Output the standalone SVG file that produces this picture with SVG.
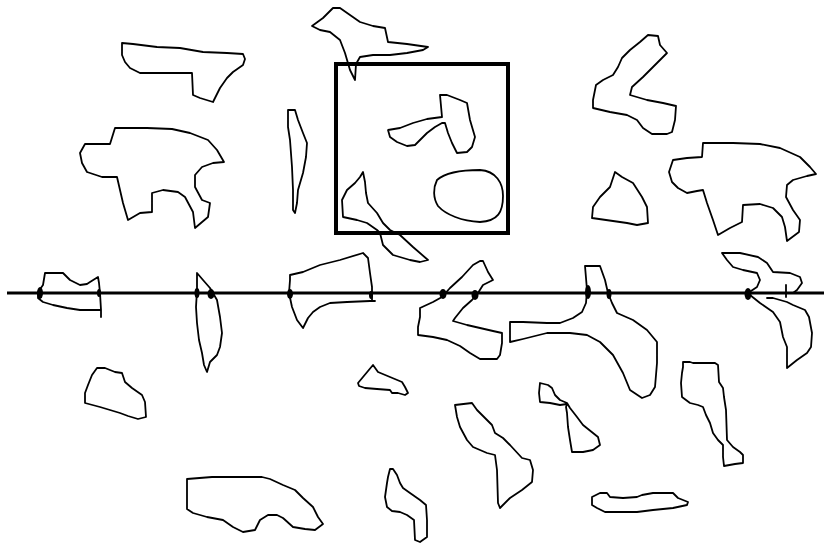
<svg xmlns="http://www.w3.org/2000/svg" width="824" height="543" viewBox="0 0 824 543">
<style>
.s{fill:none;stroke:#000;stroke-width:1.8;stroke-linejoin:round;stroke-linecap:round}
.b{fill:#000}
</style>
<rect width="824" height="543" fill="#fff"/>
<g id="shapes">
<polygon class="s" points="122,43 133,44 157,47 180,48 203,52 227,53 243,54 245,59 243,65 233,72 227,78 220,88 213,102 200,98 193,95 192,73 140,73 130,68 125,62 122,55"/>
<polygon class="s" points="115,128 147,128 172,129 190,133 208,140 217,150 224,162 213,163 202,167 195,175 195,187 202,200 210,203 208,217 195,228 193,212 185,197 178,192 163,190 152,193 152,212 140,213 128,220 123,203 117,177 102,177 87,172 82,163 80,153 85,144 110,144"/>
<polygon class="s" points="312,26 323,18 333,8 340,8 350,15 360,22 373,26 385,28 388,42 407,44 428,47 423,50 407,53 390,55 373,55 360,57 356,64 355,80 350,70 345,53 340,40 330,32 320,30"/>
<polygon class="s" points="288,110 295,110 298,120 303,133 307,143 306,157 303,173 298,190 297,203 295,213 293,210 293,190 292,167 290,140 288,127"/>
<polygon class="s" points="388,130 400,128 413,123 427,119 442,117 440,95 447,95 460,100 467,103 470,120 475,137 472,147 467,152 457,153 452,143 448,133 445,123 442,123 435,127 427,133 418,142 415,145 407,146 397,142 390,137"/>
<path class="s" d="M437,180 C446,172 462,170 480,170 C496,171 503,183 503,196 C503,212 498,221 480,222 C462,221 446,215 438,206 C433,198 433,188 437,180 Z"/>
<polygon class="s" points="363,172 365,182 366,193 368,203 377,213 383,223 390,230 400,235 413,247 428,260 420,262 410,260 393,255 383,245 380,233 377,230 367,223 357,220 343,217 342,200 347,190 355,183 360,177"/>
<polygon class="s" points="648,35 658,36 660,45 667,53 657,63 643,77 632,87 630,95 647,100 663,103 676,106 675,120 672,132 667,134 652,134 643,128 637,120 627,115 610,112 593,108 593,100 596,85 603,80 613,75 618,67 622,58 630,50 640,42"/>
<polygon class="s" points="615,172 622,177 633,183 642,197 647,207 648,223 637,225 627,223 613,221 592,218 593,207 600,197 610,187"/>
<polygon class="s" points="703,143 733,143 760,144 780,148 800,157 810,167 816,174 807,176 793,180 787,185 786,197 793,210 800,220 799,232 787,241 785,227 782,217 773,208 760,204 743,205 742,222 730,228 718,235 713,220 707,203 703,190 697,191 687,193 678,188 672,182 669,172 673,160 687,158 702,157"/>
<polyline class="s" points="100,310 80,310 67,308 53,305 43,302 38,298 38,292 43,285 45,273 63,273 70,280 80,285 87,284 90,282 98,277 99,283 100,293 101,310 101,317"/>
<polygon class="s" points="197,273 203,280 210,288 217,300 220,317 222,333 220,347 217,355 210,362 207,372 204,365 202,353 199,340 197,323 196,307 197,290"/>
<polyline class="s" points="375,301 370,301 347,302 330,303 320,307 313,312 308,318 303,328 297,320 292,307 289,293 290,280 290,275 303,272 320,265 340,260 363,253 368,258 370,273 372,287 372,297 372,301"/>
<polygon class="s" points="420,308 433,302 442,297 450,288 462,277 473,265 480,261 483,261 488,272 493,280 483,285 478,293 472,300 463,308 455,318 453,321 467,325 480,328 493,331 502,333 502,343 500,355 497,359 480,359 470,353 460,346 447,340 433,337 418,335 418,327 420,317"/>
<polygon class="s" points="358,383 373,365 378,372 390,377 402,382 405,387 408,393 405,395 398,393 392,393 390,390 377,389 365,388 359,386"/>
<polygon class="s" points="585,266 600,266 605,280 608,293 612,303 617,313 633,320 647,330 657,342 657,363 655,387 650,395 642,398 630,390 623,373 613,355 600,342 587,335 570,333 547,333 523,339 510,342 510,322 523,322 547,323 560,323 573,318 582,312 586,303 587,290 586,278"/>
<polyline class="s" points="748,293 757,287 760,280 757,273 743,270 733,267 727,260 722,253 740,253 758,257 767,263 773,272 790,273 800,277 802,283 797,290 793,293"/>
<polyline class="s" points="750,295 760,303 773,312 780,322 783,337 787,347 787,368 797,360 807,353 811,347 812,333 809,317 805,310 793,305 787,302 773,298 767,298"/>
<line class="s" x1="786" y1="285" x2="786" y2="297"/>
<polygon class="s" points="683,362 690,362 693,363 715,363 718,365 719,382 723,388 724,397 726,410 727,440 733,447 740,452 743,455 743,463 735,464 724,466 723,457 723,445 718,440 713,433 710,423 706,415 703,407 698,405 690,403 682,397 681,383 682,373 683,367"/>
<polygon class="s" points="455,405 472,403 477,410 485,418 492,425 495,433 503,438 510,445 522,458 530,460 533,470 532,482 522,490 510,498 500,508 498,503 497,470 495,455 487,453 473,447 467,440 460,427 457,417"/>
<polygon class="s" points="540,383 548,385 552,388 555,395 560,400 567,403 570,408 577,417 583,425 593,433 598,437 600,445 593,450 583,452 572,452 570,440 568,427 567,413 566,407 567,404 560,405 550,403 540,402 539,393"/>
<polygon class="s" points="592,497 600,493 607,493 610,497 623,498 637,497 642,495 653,493 673,493 678,498 688,502 687,505 673,508 653,510 637,512 620,512 605,512 597,508 592,505"/>
<polygon class="s" points="97,368 105,368 115,372 122,373 125,382 132,388 142,395 145,402 146,417 138,419 128,416 120,413 110,410 100,407 85,403 85,393 88,385 92,375"/>
<polygon class="s" points="187,479 212,477 262,477 270,479 283,485 295,490 303,498 313,507 318,517 323,524 315,530 305,529 293,527 283,518 277,515 268,515 260,520 255,530 243,532 233,527 223,520 207,517 193,513 187,509"/>
<polygon class="s" points="390,469 393,469 397,475 400,483 403,488 410,493 420,500 426,505 427,520 427,537 420,542 415,540 414,520 407,515 400,512 392,511 387,507 385,497 387,483 388,477"/>
</g>
<g id="frame">
<rect x="336" y="64" width="172" height="169" fill="none" stroke="#000" stroke-width="4"/>
</g>
<g id="connectors">
<line x1="7" y1="293" x2="824" y2="293" stroke="#000" stroke-width="3"/>
<ellipse class="b" cx="40" cy="293" rx="3" ry="6"/>
<ellipse class="b" cx="99" cy="293" rx="2" ry="4"/>
<ellipse class="b" cx="197" cy="293" rx="2.5" ry="5"/>
<ellipse class="b" cx="211" cy="294" rx="3.5" ry="5"/>
<ellipse class="b" cx="290" cy="294" rx="3" ry="5"/>
<ellipse class="b" cx="371" cy="295" rx="2" ry="4"/>
<ellipse class="b" cx="443" cy="294" rx="3.5" ry="5"/>
<ellipse class="b" cx="475" cy="295" rx="3.5" ry="5"/>
<ellipse class="b" cx="588" cy="292" rx="3" ry="7"/>
<ellipse class="b" cx="609" cy="294" rx="2.5" ry="5"/>
<ellipse class="b" cx="748" cy="294" rx="3.5" ry="6"/>
</g>
</svg>
